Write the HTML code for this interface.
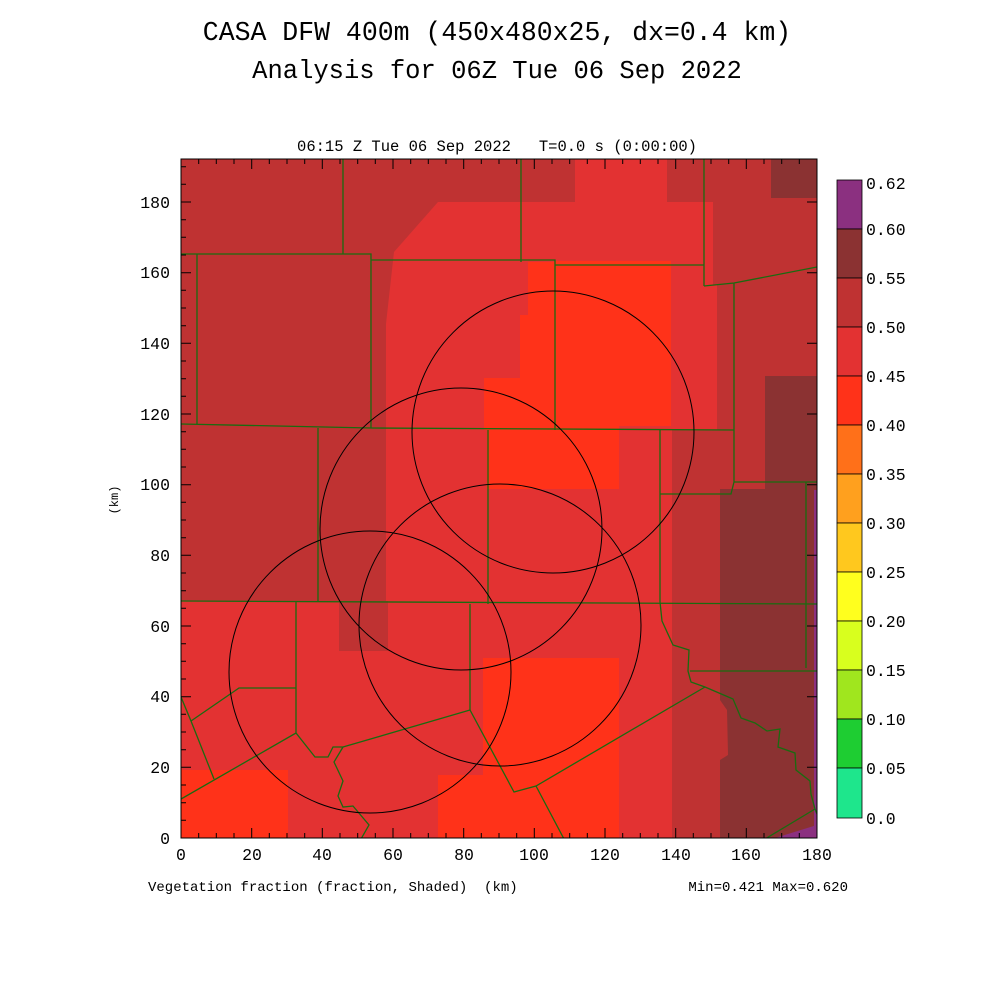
<!DOCTYPE html><html><head><style>body{margin:0;background:#fff}svg{display:block}text{font-family:"Liberation Mono","DejaVu Sans Mono",monospace;fill:#000;white-space:pre}</style></head><body>
<svg width="1000" height="1000" viewBox="0 0 1000 1000">
<text x="497" y="40" font-size="26.5" text-anchor="middle" xml:space="preserve">CASA DFW 400m (450x480x25, dx=0.4 km)</text>
<text x="497" y="78" font-size="25.5" text-anchor="middle" xml:space="preserve">Analysis for 06Z Tue 06 Sep 2022</text>
<text x="497" y="151" font-size="15.5" text-anchor="middle" xml:space="preserve">06:15 Z Tue 06 Sep 2022   T=0.0 s (0:00:00)</text>
<defs><clipPath id="c"><rect x="181" y="159" width="636" height="679"/></clipPath></defs>
<g clip-path="url(#c)">
<rect x="181" y="159" width="636" height="679" fill="#E33232"/>
<path d="M181,159H575V202H438L394,252L386,324V601H388V651H339V601H181Z" fill="#BF3232"/>
<path d="M667,159H817V838H672V430H717V285H713V202H667Z" fill="#BF3232"/>
<path d="M720,489H817V838H720V760L728,755L727,710L720,700Z M765,376H817V489H765Z M771,159H817V198H771Z" fill="#8B3232"/>
<path d="M775,838L817,825V838Z M814,490H817V838H814Z" fill="#8B3080"/>
<path d="M555,261H671V426H619V489H487V430H484V378H520V315H528V262H555Z" fill="#FF3219"/>
<path d="M483,658H619V838H438V775H483Z M181,770H288V838H181Z" fill="#FF3219"/>
<g fill="none" stroke="#1a6b10" stroke-width="1.3">
<path d="M343,159V254 M521,159V262 M704,159V286"/>
<path d="M181,254H371V260H555V265H704 M371,254V428 M555,265V430 M197,254V424"/>
<path d="M181,424L371,428L734,430 M318,428V601 M488,430V604"/>
<path d="M704,286L734,283L817,267 M734,283V482 M660,430V602 M660,494H731L734,482H817 M806,482V668 M690,671H817"/>
<path d="M181,601L817,604 M296,601V734 M470,604V710"/>
<path d="M181,697L191,721L214,779 M191,721L239,688H296 M181,799L296,733L315,757H328L333,747H343L470,710L514,792L536,786L705,687 M536,786L564,839"/>
<path d="M343,747L334,762L343,781L338,796L343,807L353,806L369,825L361,839"/>
<path d="M660,602L662,621L673,645L689,650L688,671L691,682L705,687L733,699L741,718L755,723L767,731L780,729L778,747L795,753L796,770L810,781L811,794L815,809L817,814 M765,839L815,809"/>
</g>
<g fill="none" stroke="#000" stroke-width="1">
<circle cx="553" cy="432" r="141"/><circle cx="461" cy="529" r="141"/><circle cx="500" cy="625" r="141"/><circle cx="370" cy="672" r="141"/>
</g>
</g>
<rect x="181" y="159" width="636" height="679" fill="none" stroke="#000"/>
<g stroke="#000">
<path d="M181,838h10M181,767.3h10M181,696.7h10M181,626h10M181,555.3h10M181,484.7h10M181,414h10M181,343.3h10M181,272.7h10M181,202h10"/>
<path d="M181,820.3h5M181,802.7h5M181,785h5M181,749.7h5M181,732h5M181,714.3h5M181,679h5M181,661.3h5M181,643.7h5M181,608.3h5M181,590.7h5M181,573h5M181,537.7h5M181,520h5M181,502.3h5M181,467h5M181,449.3h5M181,431.7h5M181,396.3h5M181,378.7h5M181,361h5M181,325.7h5M181,308h5M181,290.3h5M181,255h5M181,237.3h5M181,219.7h5M181,184.3h5M181,166.7h5"/>
<path d="M817,838h-10M817,767.3h-10M817,696.7h-10M817,626h-10M817,555.3h-10M817,484.7h-10M817,414h-10M817,343.3h-10M817,272.7h-10M817,202h-10"/>
<path d="M251.7,159v10M322.3,159v10M393,159v10M463.7,159v10M534.3,159v10M605,159v10M675.7,159v10M746.3,159v10M251.7,838v-10M322.3,838v-10M393,838v-10M463.7,838v-10M534.3,838v-10M605,838v-10M675.7,838v-10M746.3,838v-10"/>
<path d="M198.7,159v5M216.3,159v5M234,159v5M269.3,159v5M287,159v5M304.7,159v5M340,159v5M357.7,159v5M375.3,159v5M410.7,159v5M428.3,159v5M446,159v5M481.3,159v5M499,159v5M516.7,159v5M552,159v5M569.7,159v5M587.3,159v5M622.7,159v5M640.3,159v5M658,159v5M693.3,159v5M711,159v5M728.7,159v5M764,159v5M781.7,159v5M799.3,159v5"/>
<path d="M198.7,838v-5M216.3,838v-5M234,838v-5M269.3,838v-5M287,838v-5M304.7,838v-5M340,838v-5M357.7,838v-5M375.3,838v-5M410.7,838v-5M428.3,838v-5M446,838v-5M481.3,838v-5M499,838v-5M516.7,838v-5M552,838v-5M569.7,838v-5M587.3,838v-5M622.7,838v-5M640.3,838v-5M658,838v-5M693.3,838v-5M711,838v-5M728.7,838v-5M764,838v-5M781.7,838v-5M799.3,838v-5"/>
</g>
<g font-size="16.5" text-anchor="end">
<text x="170" y="844">0</text><text x="170" y="773">20</text><text x="170" y="702">40</text><text x="170" y="632">60</text><text x="170" y="561">80</text><text x="170" y="490">100</text><text x="170" y="420">120</text><text x="170" y="349">140</text><text x="170" y="278">160</text><text x="170" y="208">180</text>
</g>
<g font-size="16.5" text-anchor="middle">
<text x="181" y="860">0</text><text x="252" y="860">20</text><text x="322" y="860">40</text><text x="393" y="860">60</text><text x="464" y="860">80</text><text x="534" y="860">100</text><text x="605" y="860">120</text><text x="676" y="860">140</text><text x="746" y="860">160</text><text x="817" y="860">180</text>
</g>
<text x="118" y="500" font-size="12" transform="rotate(-90 118 500)" text-anchor="middle">(km)</text>
<text x="148" y="891" font-size="14" xml:space="preserve">Vegetation fraction (fraction, Shaded)  (km)</text>
<text x="848" y="891" font-size="14" text-anchor="end">Min=0.421 Max=0.620</text>
<g stroke="#000" stroke-width="0.8">
<rect x="837" y="180" width="25" height="49" fill="#8B3080"/>
<rect x="837" y="229" width="25" height="49" fill="#8B3232"/>
<rect x="837" y="278" width="25" height="49" fill="#BF3232"/>
<rect x="837" y="327" width="25" height="49" fill="#E33232"/>
<rect x="837" y="376" width="25" height="49" fill="#FF3219"/>
<rect x="837" y="425" width="25" height="49" fill="#FF7019"/>
<rect x="837" y="474" width="25" height="49" fill="#FFA01E"/>
<rect x="837" y="523" width="25" height="49" fill="#FFC81E"/>
<rect x="837" y="572" width="25" height="49" fill="#FFFF1E"/>
<rect x="837" y="621" width="25" height="49" fill="#D8FF1E"/>
<rect x="837" y="670" width="25" height="49" fill="#A0E61E"/>
<rect x="837" y="719" width="25" height="49" fill="#1ECD32"/>
<rect x="837" y="768" width="25" height="50" fill="#1EE68C"/>
</g>
<g font-size="16.5">
<text x="866" y="189">0.62</text><text x="866" y="235">0.60</text><text x="866" y="284">0.55</text><text x="866" y="333">0.50</text><text x="866" y="382">0.45</text><text x="866" y="431">0.40</text><text x="866" y="480">0.35</text><text x="866" y="529">0.30</text><text x="866" y="578">0.25</text><text x="866" y="627">0.20</text><text x="866" y="676">0.15</text><text x="866" y="725">0.10</text><text x="866" y="774">0.05</text><text x="866" y="824">0.0</text>
</g>
</svg></body></html>
